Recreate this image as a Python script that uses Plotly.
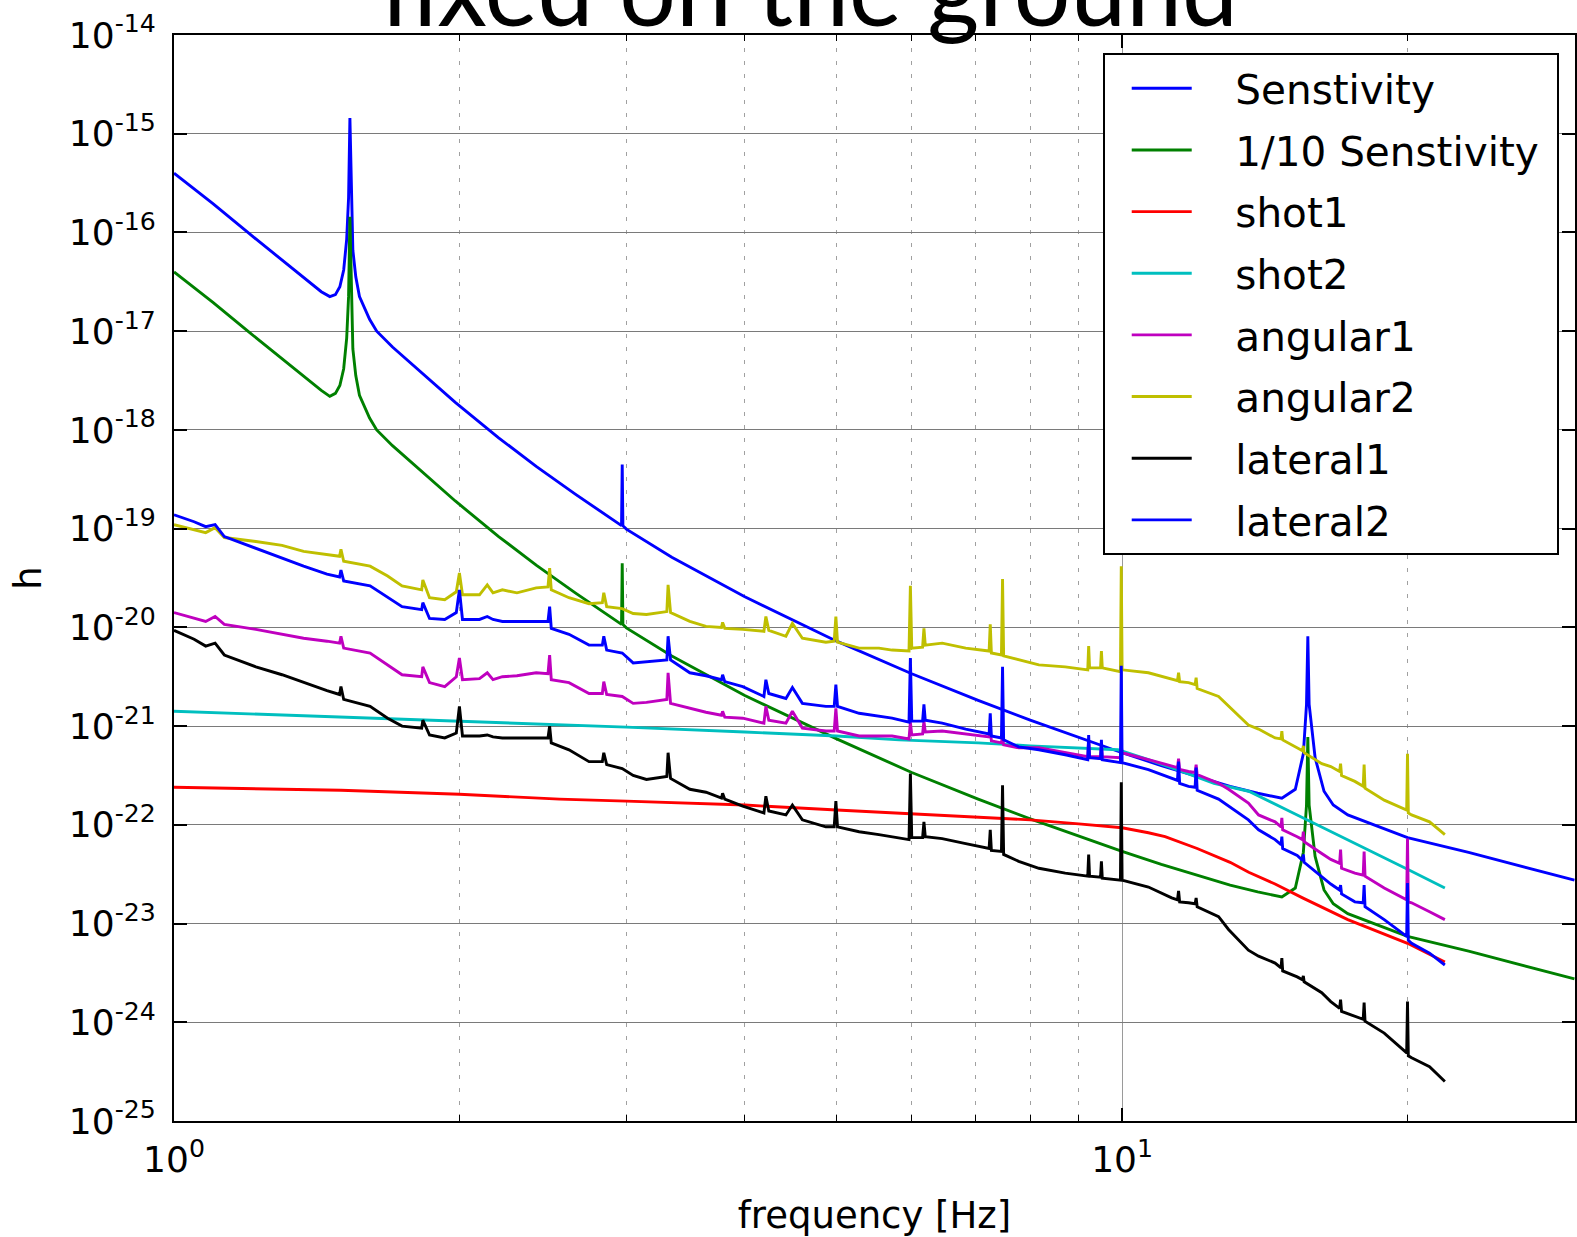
import numpy as np
import plotly.graph_objects as go

# ---------------- data (log10 of strain h) ----------------
sens_freq = [1.00, 1.10, 1.20, 1.30, 1.38, 1.43, 1.46, 1.48, 1.496, 1.51,
             1.521, 1.528, 1.533, 1.538, 1.544, 1.555, 1.569, 1.608, 1.636, 1.70,
             1.80, 1.98, 2.20, 2.41, 2.65, 2.92, 2.965, 2.97, 2.975, 3.00,
             3.35, 4.0, 5.0, 6.0, 7.05, 8.0, 9.16, 10.0, 11.0, 12.0,
             13.0, 13.9, 14.74, 15.23, 15.53, 15.65, 15.70, 15.75, 15.98, 16.33,
             16.7, 17.3, 20.0, 23.2, 30.0]
sens_log = [-15.40, -15.71, -16.01, -16.28, -16.48, -16.60, -16.65, -16.63, -16.55, -16.38,
            -16.07, -15.65, -14.84, -15.65, -16.18, -16.45, -16.65, -16.88, -17.00, -17.16,
            -17.37, -17.72, -18.08, -18.37, -18.65, -18.93, -18.97, -18.35, -18.97, -19.005,
            -19.29, -19.69, -20.14, -20.47, -20.74, -20.94, -21.14, -21.27, -21.40, -21.51,
            -21.61, -21.68, -21.73, -21.64, -21.28, -20.78, -20.09, -20.78, -21.32, -21.66,
            -21.80, -21.90, -22.13, -22.28, -22.56]
sens10_log = [-16.40, -16.71, -17.01, -17.28, -17.48, -17.60, -17.66, -17.63, -17.55, -17.38,
              -17.07, -16.65, -15.84, -16.65, -17.18, -17.45, -17.65, -17.88, -18.00, -18.16,
              -18.37, -18.72, -19.08, -19.37, -19.65, -19.93, -19.97, -19.35, -19.97, -20.005,
              -20.29, -20.69, -21.13, -21.47, -21.74, -21.94, -22.14, -22.27, -22.40, -22.51,
              -22.61, -22.68, -22.73, -22.64, -22.28, -21.80, -21.11, -21.80, -22.32, -22.66,
              -22.80, -22.90, -23.13, -23.28, -23.56]

shot1_freq = [1.0, 1.5, 2.0, 2.55, 3.0, 4.0, 5.0, 6.0, 7.0, 8.0, 9.0, 10.0, 10.66, 11.1,
              12.0, 13.0, 13.6, 14.5, 15.5, 17.3, 20.0, 21.9]
shot1_log = [-21.62, -21.65, -21.69, -21.74, -21.76, -21.80, -21.85, -21.89, -21.92, -21.95,
             -21.99, -22.03, -22.08, -22.12, -22.24, -22.38, -22.48, -22.60, -22.74, -22.96,
             -23.20, -23.39]

shot2_freq = [1.0, 2.0, 2.74, 3.0, 4.0, 5.0, 5.82, 7.05, 8.0, 9.0, 9.9, 10.66, 11.5, 12.5,
              13.6, 15.0, 17.3, 20.0, 21.9]
shot2_log = [-20.85, -20.95, -21.00, -21.01, -21.06, -21.10, -21.14, -21.17, -21.20, -21.22,
             -21.24, -21.34, -21.45, -21.58, -21.66, -21.86, -22.15, -22.45, -22.64]

meas_freq = [1.00, 1.05, 1.08, 1.105, 1.13, 1.22, 1.30, 1.37, 1.45, 1.495,
             1.50, 1.51, 1.61, 1.68, 1.74, 1.825, 1.83, 1.86, 1.93, 1.985,
             2.00, 2.015, 2.10, 2.14, 2.17, 2.22, 2.30, 2.41, 2.48, 2.49,
             2.50, 2.61, 2.74, 2.83, 2.84, 2.86, 2.97, 3.05, 3.15, 3.31,
             3.32, 3.34, 3.50, 3.64, 3.78, 3.79, 3.81, 3.98, 4.19, 4.21,
             4.24, 4.42, 4.49, 4.60, 4.87, 4.97, 4.99, 5.01, 5.28, 5.54,
             5.72, 5.96, 5.98, 6.00, 6.16, 6.18, 6.20, 6.46, 6.84, 7.24,
             7.26, 7.28, 7.46, 7.48, 7.50, 7.78, 8.17, 8.71, 9.20, 9.22,
             9.24, 9.49, 9.51, 9.53, 9.96, 9.98, 10.00, 10.66, 11.28, 11.44,
             11.47, 11.50, 11.75, 11.94, 11.97, 12.00, 12.64, 12.95, 13.59, 13.93,
             14.50, 14.71, 14.74, 14.77, 15.30, 15.50, 15.53, 15.56, 16.24, 16.60,
             16.96, 17.00, 17.04, 17.60, 17.96, 18.00, 18.04, 18.90, 19.96, 20.00,
             20.04, 20.20, 21.10, 21.90]

angular2_log = [-18.96, -19.01, -19.04, -18.99, -19.09, -19.13, -19.17, -19.23, -19.26, -19.28,
                -19.21, -19.33, -19.38, -19.48, -19.58, -19.62, -19.52, -19.70, -19.72, -19.64,
                -19.45, -19.67, -19.67, -19.57, -19.65, -19.62, -19.65, -19.60, -19.59, -19.40,
                -19.62, -19.70, -19.76, -19.75, -19.65, -19.79, -19.81, -19.86, -19.87, -19.84,
                -19.57, -19.85, -19.94, -19.99, -20.00, -19.95, -20.01, -20.02, -20.04, -19.89,
                -20.03, -20.09, -19.96, -20.11, -20.15, -20.14, -19.89, -20.15, -20.21, -20.21,
                -20.23, -20.24, -19.58, -20.21, -20.20, -20.01, -20.18, -20.16, -20.21, -20.24,
                -19.97, -20.26, -20.28, -19.51, -20.29, -20.33, -20.38, -20.40, -20.43, -20.19,
                -20.41, -20.41, -20.24, -20.41, -20.45, -19.38, -20.43, -20.46, -20.53, -20.54,
                -20.46, -20.55, -20.56, -20.58, -20.51, -20.62, -20.70, -20.80, -20.99, -21.03,
                -21.12, -21.13, -21.05, -21.14, -21.22, -21.25, -21.20, -21.27, -21.38, -21.41,
                -21.46, -21.38, -21.50, -21.56, -21.61, -21.39, -21.63, -21.75, -21.85, -21.28,
                -21.88, -21.90, -21.97, -22.10]

lateral2_log = [-18.86, -18.93, -18.98, -18.96, -19.08, -19.20, -19.30, -19.38, -19.46, -19.49,
                -19.42, -19.53, -19.58, -19.70, -19.79, -19.82, -19.75, -19.91, -19.92, -19.85,
                -19.62, -19.92, -19.92, -19.89, -19.92, -19.94, -19.94, -19.94, -19.94, -19.79,
                -20.01, -20.07, -20.18, -20.18, -20.09, -20.23, -20.26, -20.36, -20.35, -20.33,
                -20.09, -20.33, -20.46, -20.49, -20.53, -20.48, -20.55, -20.60, -20.70, -20.53,
                -20.67, -20.72, -20.61, -20.77, -20.80, -20.80, -20.58, -20.80, -20.87, -20.90,
                -20.92, -20.96, -20.31, -20.95, -20.95, -20.78, -20.94, -20.97, -21.03, -21.08,
                -20.87, -21.10, -21.12, -20.40, -21.14, -21.21, -21.24, -21.29, -21.34, -21.09,
                -21.32, -21.33, -21.14, -21.34, -21.37, -20.39, -21.37, -21.44, -21.53, -21.55,
                -21.36, -21.58, -21.61, -21.62, -21.42, -21.65, -21.74, -21.81, -21.95, -22.05,
                -22.15, -22.20, -22.12, -22.24, -22.31, -22.36, -22.30, -22.38, -22.52, -22.60,
                -22.66, -22.61, -22.70, -22.78, -22.79, -22.61, -22.83, -22.96, -23.13, -22.59,
                -23.17, -23.20, -23.30, -23.42]

angular1_log = [-19.85, -19.91, -19.94, -19.89, -19.97, -20.02, -20.07, -20.11, -20.14, -20.16,
                -20.09, -20.21, -20.26, -20.38, -20.48, -20.50, -20.40, -20.56, -20.60, -20.50,
                -20.31, -20.53, -20.52, -20.46, -20.53, -20.50, -20.49, -20.46, -20.47, -20.28,
                -20.53, -20.56, -20.67, -20.67, -20.55, -20.68, -20.70, -20.77, -20.76, -20.73,
                -20.46, -20.77, -20.82, -20.86, -20.89, -20.85, -20.91, -20.92, -20.97, -20.80,
                -20.94, -20.97, -20.85, -21.02, -21.05, -21.05, -20.82, -21.05, -21.10, -21.10,
                -21.10, -21.13, -20.96, -21.09, -21.08, -20.95, -21.06, -21.05, -21.08, -21.11,
                -21.04, -21.15, -21.17, -21.10, -21.19, -21.22, -21.22, -21.27, -21.31, -21.14,
                -21.31, -21.31, -21.19, -21.31, -21.32, -21.20, -21.27, -21.34, -21.41, -21.42,
                -21.33, -21.44, -21.46, -21.47, -21.39, -21.49, -21.58, -21.64, -21.78, -21.90,
                -21.97, -22.02, -21.93, -22.05, -22.12, -22.15, -22.07, -22.17, -22.29, -22.35,
                -22.39, -22.25, -22.44, -22.49, -22.51, -22.27, -22.52, -22.64, -22.76, -22.14,
                -22.78, -22.79, -22.88, -22.96]

lateral1_log = [-20.03, -20.12, -20.19, -20.16, -20.28, -20.40, -20.48, -20.56, -20.64, -20.68,
                -20.60, -20.73, -20.80, -20.92, -21.00, -21.02, -20.94, -21.09, -21.12, -21.07,
                -20.80, -21.10, -21.10, -21.09, -21.11, -21.12, -21.12, -21.12, -21.12, -21.00,
                -21.17, -21.24, -21.36, -21.36, -21.27, -21.39, -21.43, -21.50, -21.54, -21.51,
                -21.27, -21.53, -21.64, -21.67, -21.73, -21.68, -21.74, -21.81, -21.88, -21.71,
                -21.86, -21.90, -21.80, -21.95, -22.02, -22.02, -21.76, -22.02, -22.07, -22.10,
                -22.12, -22.15, -21.48, -22.13, -22.13, -21.97, -22.12, -22.14, -22.19, -22.24,
                -22.05, -22.26, -22.27, -21.60, -22.30, -22.37, -22.44, -22.49, -22.52, -22.30,
                -22.52, -22.53, -22.37, -22.54, -22.56, -21.57, -22.56, -22.63, -22.74, -22.76,
                -22.67, -22.78, -22.79, -22.80, -22.74, -22.83, -22.93, -23.06, -23.27, -23.33,
                -23.40, -23.45, -23.35, -23.48, -23.54, -23.57, -23.53, -23.59, -23.70, -23.79,
                -23.86, -23.77, -23.89, -23.94, -23.97, -23.80, -23.99, -24.11, -24.31, -23.79,
                -24.34, -24.36, -24.45, -24.60]

x_tick_vals = [1, 10]
x_tick_text = ["10<sup>0</sup>", "10<sup>1</sup>"]
x_minor_vals = [2, 3, 4, 5, 6, 7, 8, 9, 20, 30]
y_exponents = [-25, -24, -23, -22, -21, -20, -19, -18, -17, -16, -15, -14]
y_tick_vals = [10.0 ** e for e in y_exponents]
y_tick_text = ["10<sup>%d</sup>" % e for e in y_exponents]

legend_names = ["Senstivity", "1/10 Senstivity", "shot1", "shot2",
                "angular1", "angular2", "lateral1", "lateral2"]

# ---------------- figure ----------------
def lin(vals):
    return np.power(10.0, np.asarray(vals, dtype=float))

series = [
    (sens_freq, sens_log, "#0000ff"),
    (sens_freq, sens10_log, "#008000"),
    (shot1_freq, shot1_log, "#ff0000"),
    (shot2_freq, shot2_log, "#00bfbf"),
    (meas_freq, angular1_log, "#bf00bf"),
    (meas_freq, angular2_log, "#bfbf00"),
    (meas_freq, lateral1_log, "#000000"),
    (meas_freq, lateral2_log, "#0000ff"),
]

NB = "\u00a0"
fig = go.Figure()
for i, ((f, v, c), name) in enumerate(zip(series, legend_names)):
    label = NB * 3 + name + (NB if name == "1/10 Senstivity" else "")
    fig.add_trace(go.Scatter(x=f, y=lin(v), mode="lines", name=label,
                             legendgroup="g%d" % i,
                             line=dict(color=c, width=2.9)))

axis_font = "DejaVu Sans"
fig.update_layout(
    width=1577, height=1237,
    margin=dict(l=174, r=0, t=35, b=116, pad=0),
    paper_bgcolor="white", plot_bgcolor="white",
    font=dict(family=axis_font, color="black", size=34),
    showlegend=True,
    legend=dict(x=0.6629, y=0.9830, xanchor="left", yanchor="top",
                bordercolor="black", borderwidth=2, bgcolor="white",
                font=dict(size=40.5, family=axis_font, color="black"),
                tracegroupgap=6, itemwidth=60, indentation=22),
    xaxis=dict(type="log", range=[0, 1.4777], showline=True, linecolor="black",
               linewidth=2, mirror="ticks", ticks="inside", ticklen=13,
               tickwidth=1.5, tickcolor="black", tickmode="array",
               tickvals=x_tick_vals, ticktext=x_tick_text,
               tickfont=dict(size=36), ticklabelstandoff=6,
               showgrid=True, gridcolor="#9a9a9a", gridwidth=1, zeroline=False,
               minor=dict(tickmode="array", tickvals=x_minor_vals, ticks="inside",
                          ticklen=6, tickcolor="black", tickwidth=1,
                          showgrid=True, gridcolor="#a0a0a0", griddash="4px,9px",
                          gridwidth=1.3),
               title=dict(text="frequency [Hz]", font=dict(size=37), standoff=24)),
    yaxis=dict(type="log", range=[-25, -14], showline=True, linecolor="black",
               linewidth=2, mirror="ticks", ticks="inside", ticklen=13,
               tickwidth=1.5, tickcolor="black", tickmode="array",
               tickvals=y_tick_vals, ticktext=y_tick_text,
               tickfont=dict(size=36), ticklabelstandoff=9,
               showgrid=True, gridcolor="#7a7a7a", gridwidth=1.3, zeroline=False,
               title=dict(text="h", font=dict(size=37), standoff=16)),
)

fig.add_annotation(text="fixed on the ground", xref="paper", yref="paper",
                   x=0.4533, y=0.9875, xanchor="center", yanchor="bottom",
                   showarrow=False, font=dict(family="Lato", size=100, color="black"))

fig.write_html("out.html")
